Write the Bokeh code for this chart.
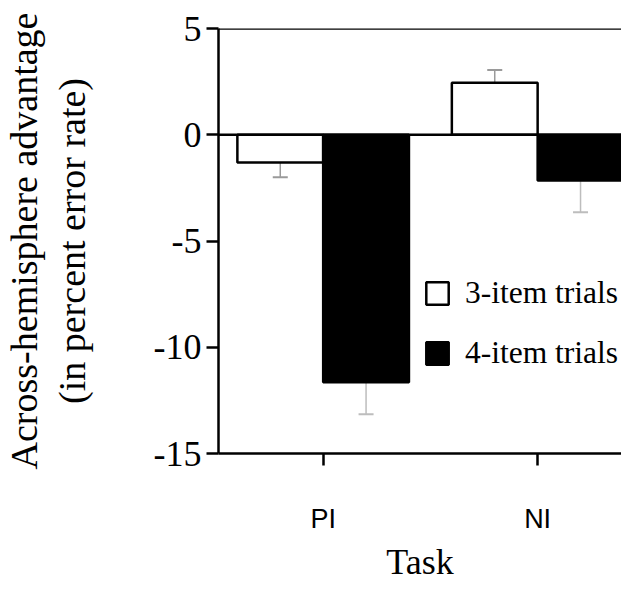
from bokeh.plotting import figure
from bokeh.models import (ColumnDataSource, Range1d, FixedTicker, Span, Whisker,
                          TeeHead, Legend, LegendItem)
from bokeh.embed import file_html
from bokeh.resources import INLINE

# ---- data ----
tasks = ["PI", "NI"]
groups = ["3-item trials", "4-item trials"]
three_item = [-1.3, 2.45]
four_item = [-11.65, -2.15]
three_err = [0.7, 0.6]
four_err = [1.5, 1.5]
y_ticks = [5, 0, -5, -10, -15]
y_tick_labels = ["5", "0", "-5", "-10", "-15"]
y_title_lines = ["Across-hemisphere advantage", "(in percent error rate)"]
x_title = "Task"

pos = [i + 1 for i in range(len(tasks))]
bar_w = 0.4

src3 = ColumnDataSource(dict(
    x=[p_ - bar_w / 2 for p_ in pos], top=three_item,
    upper=[v + e for v, e in zip(three_item, three_err)],
    lower=[v - e for v, e in zip(three_item, three_err)]))
src4 = ColumnDataSource(dict(
    x=[p_ + bar_w / 2 for p_ in pos], top=four_item,
    upper=[v + e for v, e in zip(four_item, four_err)],
    lower=[v - e for v, e in zip(four_item, four_err)]))

p = figure(width=621, height=585, output_backend="svg", toolbar_location=None,
           x_range=Range1d(0.512, 2.391), y_range=Range1d(-15, 5),
           min_border_left=217, min_border_top=28, min_border_bottom=132,
           min_border_right=0)
p.outline_line_color = None
p.grid.visible = False
p.background_fill_color = "white"
p.border_fill_color = "white"

r3 = p.vbar(x="x", top="top", bottom=0, width=bar_w, source=src3,
            fill_color="white", line_color="black", line_width=2.5)
r4 = p.vbar(x="x", top="top", bottom=0, width=bar_w, source=src4,
            fill_color="black", line_color="black", line_width=2.5)

for src, col in ((src3, "#9a9a9a"), (src4, "#bdbdbd")):
    w = Whisker(source=src, base="x", upper="upper", lower="lower",
                line_color=col, line_width=1.5,
                upper_head=TeeHead(size=15, line_color=col, line_width=2),
                lower_head=TeeHead(size=15, line_color=col, line_width=2))
    p.add_layout(w)

p.add_layout(Span(location=0, dimension="width", line_color="black", line_width=2.5))
p.add_layout(Span(location=5, dimension="width", line_color="black", line_width=2.5))

# y axis
ya = p.yaxis[0]
ya.ticker = FixedTicker(ticks=y_ticks)
ya.major_label_overrides = {t: s for t, s in zip(y_ticks, y_tick_labels)}
ya.major_label_text_font = "Liberation Serif"
ya.major_label_text_font_size = "36px"
ya.major_label_text_color = "black"
ya.major_tick_in = 0
ya.major_tick_out = 12
ya.major_tick_line_width = 2.5
ya.minor_tick_line_color = None
ya.axis_line_width = 2.5
ya.major_label_standoff = 5
ya.axis_label = "\n".join(y_title_lines)
ya.axis_label_text_font = "Liberation Serif"
ya.axis_label_text_font_size = "38px"
ya.axis_label_text_font_style = "normal"
ya.axis_label_text_color = "black"
ya.axis_label_text_line_height = 1.13
ya.axis_label_standoff = 58

# x axis
xa = p.xaxis[0]
xa.ticker = FixedTicker(ticks=pos)
xa.major_label_overrides = {p_: t for p_, t in zip(pos, tasks)}
xa.major_label_text_font = "Liberation Sans"
xa.major_label_text_font_size = "27px"
xa.major_label_text_color = "black"
xa.major_tick_in = 0
xa.major_tick_out = 12
xa.major_tick_line_width = 2.5
xa.minor_tick_line_color = None
xa.axis_line_width = 2.5
xa.major_label_standoff = 38
xa.axis_label = x_title
xa.axis_label_text_font = "Liberation Serif"
xa.axis_label_text_font_size = "36px"
xa.axis_label_text_font_style = "normal"
xa.axis_label_text_color = "black"
xa.axis_label_standoff = 5

legend = Legend(items=[LegendItem(label=groups[0], renderers=[r3]),
                       LegendItem(label=groups[1], renderers=[r4])],
                location=(205, 81), orientation="vertical",
                glyph_width=28, glyph_height=28, label_height=38,
                label_standoff=14, spacing=22, padding=0, margin=0,
                border_line_color=None, background_fill_alpha=0,
                label_text_font="Liberation Serif", label_text_font_size="31.5px",
                label_text_color="black")
p.add_layout(legend)

open("out.html", "w").write(file_html(p, INLINE))
